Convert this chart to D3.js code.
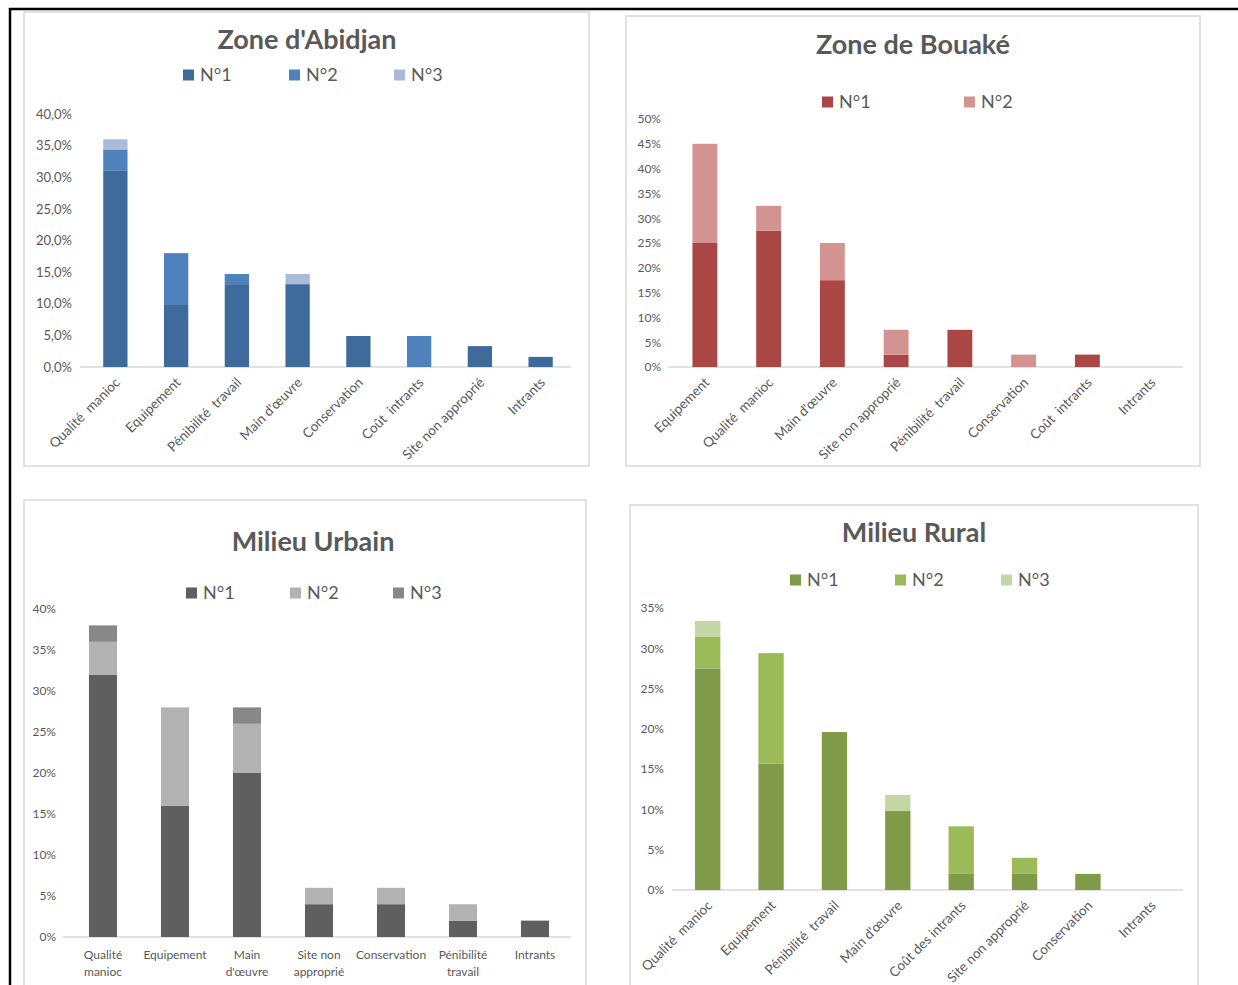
<!DOCTYPE html>
<html>
<head>
<meta charset="utf-8">
<script src="https://cdn.jsdelivr.net/npm/d3@7"></script>
<style>
body { margin: 0; background: #fff; }
text { font-family: Lato, "Open Sans", sans-serif; }
</style>
</head>
<body>
<script>
// series names, shared by the four charts
var seriesNames = ["N°1", "N°2", "N°3"];

// Zone d'Abidjan
var abidjanCats = ["Qualité  manioc", "Equipement", "Pénibilité  travail", "Main d'œuvre", "Conservation", "Coût  intrants", "Site non approprié", "Intrants"];
var abidjanN1 = [31.1, 9.8, 13.1, 13.1, 4.9, 0, 3.3, 1.6];
var abidjanN2 = [3.3, 8.2, 1.6, 0, 0, 4.9, 0, 0];
var abidjanN3 = [1.6, 0, 0, 1.6, 0, 0, 0, 0];
var abidjanTicks = [0, 5, 10, 15, 20, 25, 30, 35, 40];

// Zone de Bouaké
var bouakeCats = ["Equipement", "Qualité  manioc", "Main d'œuvre", "Site non approprié", "Pénibilité  travail", "Conservation", "Coût  intrants", "Intrants"];
var bouakeN1 = [25, 27.5, 17.5, 2.5, 7.5, 0, 2.5, 0];
var bouakeN2 = [20, 5, 7.5, 5, 0, 2.5, 0, 0];
var bouakeTicks = [0, 5, 10, 15, 20, 25, 30, 35, 40, 45, 50];

// Milieu Urbain
var urbainCats = ["Qualité|manioc", "Equipement", "Main|d'œuvre", "Site non|approprié", "Conservation", "Pénibilité|travail", "Intrants"];
var urbainN1 = [32, 16, 20, 4, 4, 2, 2];
var urbainN2 = [4, 12, 6, 2, 2, 2, 0];
var urbainN3 = [2, 0, 2, 0, 0, 0, 0];
var urbainTicks = [0, 5, 10, 15, 20, 25, 30, 35, 40];

// Milieu Rural
var ruralCats = ["Qualité  manioc", "Equipement", "Pénibilité  travail", "Main d'œuvre", "Coût des intrants", "Site non approprié", "Conservation", "Intrants"];
var ruralN1 = [27.5, 15.7, 19.6, 9.8, 2.0, 2.0, 2.0, 0];
var ruralN2 = [3.9, 13.7, 0, 0, 5.9, 2.0, 0, 0];
var ruralN3 = [2.0, 0, 0, 2.0, 0, 0, 0, 0];
var ruralTicks = [0, 5, 10, 15, 20, 25, 30, 35];

var width = 1238,
    height = 985;

var svg = d3.select("body").append("svg")
    .attr("width", width)
    .attr("height", height);

// outer frame (top and left only)
svg.append("line").attr("x1", 9).attr("x2", width).attr("y1", 9).attr("y2", 9)
    .attr("stroke", "#000").attr("stroke-width", 2.5);
svg.append("line").attr("x1", 10).attr("x2", 10).attr("y1", 8).attr("y2", height)
    .attr("stroke", "#000").attr("stroke-width", 2.5);

var pctComma = function(d) { return d3.format(".1f")(d).replace(".", ",") + "%"; };
var pct = function(d) { return d + "%"; };

function drawPanel(p) {
  var g = svg.append("g");

  g.append("rect")
      .attr("x", p.box[0]).attr("y", p.box[1])
      .attr("width", p.box[2]).attr("height", p.box[3])
      .attr("fill", "#fff")
      .attr("stroke", "#d9d9d9")
      .attr("stroke-width", 1.5);

  g.append("text")
      .attr("x", p.titleX).attr("y", p.titleY)
      .attr("text-anchor", "middle")
      .attr("font-size", 27)
      .attr("font-weight", "bold")
      .attr("fill", "#595959")
      .text(p.title);

  // legend
  p.legendX.forEach(function(lx, i) {
    g.append("rect")
        .attr("x", lx).attr("y", p.legendY - 5.5)
        .attr("width", 11).attr("height", 11)
        .attr("fill", p.colors[i]);
    g.append("text")
        .attr("x", lx + 17).attr("y", p.legendY)
        .attr("dy", "0.36em")
        .attr("font-size", 18)
        .attr("fill", "#595959")
        .text(seriesNames[i]);
  });

  var x = d3.scaleBand()
      .domain(p.cats)
      .range([p.x0, p.x1])
      .paddingInner(p.pad)
      .paddingOuter(p.pad / 2);

  var y = d3.scaleLinear()
      .domain([0, d3.max(p.ticks)])
      .range([p.y0, p.yTop]);

  var keys = p.series.map(function(s, j) { return "s" + j; });
  var rows = p.cats.map(function(c, i) {
    var r = { cat: c };
    p.series.forEach(function(s, j) { r["s" + j] = s[i]; });
    return r;
  });
  var stacked = d3.stack().keys(keys)(rows);

  // baseline
  g.append("line")
      .attr("x1", p.lineX0).attr("x2", p.x1)
      .attr("y1", p.y0).attr("y2", p.y0)
      .attr("stroke", "#d9d9d9")
      .attr("stroke-width", 1.5);

  g.append("g")
    .selectAll("g")
    .data(stacked)
    .enter().append("g")
      .attr("fill", function(d, i) { return p.colors[i]; })
    .selectAll("rect")
    .data(function(d) { return d.filter(function(v) { return v[1] > v[0]; }); })
    .enter().append("rect")
      .attr("x", function(d) { return x(d.data.cat); })
      .attr("width", x.bandwidth())
      .attr("y", function(d) { return y(d[1]); })
      .attr("height", function(d) { return y(d[0]) - y(d[1]); });

  var ya = g.append("g")
      .attr("transform", "translate(" + p.yLabelX + ",0)")
      .call(d3.axisLeft(y).tickValues(p.ticks).tickSize(0).tickPadding(0).tickFormat(p.fmt));
  ya.select(".domain").remove();
  ya.attr("font-family", null).attr("font-size", p.yFont);
  ya.selectAll("text").attr("fill", "#595959");

  var xa = g.append("g")
      .attr("transform", "translate(0," + p.y0 + ")")
      .call(d3.axisBottom(x).tickSize(0).tickFormat(function(d) { return ""; }));
  xa.select(".domain").remove();
  xa.attr("font-family", null);

  if (p.rotate) {
    xa.attr("font-size", 13.5);
    xa.selectAll(".tick text")
        .text(function(d) { return d; })
        .style("white-space", "pre")
        .attr("fill", "#595959")
        .attr("x", 0).attr("y", 0).attr("dy", "0.35em")
        .attr("text-anchor", "end")
        .attr("transform", "translate(2,13) rotate(-45)");
  } else {
    xa.attr("font-size", 12);
    xa.selectAll(".tick text").each(function(d) {
      var t = d3.select(this).attr("y", 0).attr("dy", null).attr("fill", "#595959");
      d.split("|").forEach(function(line, k) {
        t.append("tspan").attr("x", 0).attr("y", 22 + k * 17).text(line);
      });
    });
  }
}

drawPanel({
  title: "Zone d'Abidjan",
  box: [24, 12, 565, 454], titleX: 307, titleY: 49,
  legendX: [183, 289, 394], legendY: 75,
  cats: abidjanCats, series: [abidjanN1, abidjanN2, abidjanN3],
  colors: ["#3f6a9c", "#4f81bd", "#a9badb"],
  ticks: abidjanTicks, fmt: pctComma, yFont: 13,
  y0: 367, yTop: 114, yLabelX: 72,
  x0: 85, x1: 571, lineX0: 80, pad: 0.6, rotate: true
});

drawPanel({
  title: "Zone de Bouaké",
  box: [626, 16, 574, 450], titleX: 913, titleY: 54,
  legendX: [822, 964], legendY: 102,
  cats: bouakeCats, series: [bouakeN1, bouakeN2],
  colors: ["#aa4644", "#d39391"],
  ticks: bouakeTicks, fmt: pct, yFont: 12,
  y0: 367, yTop: 119, yLabelX: 661,
  x0: 673, x1: 1183, lineX0: 668, pad: 0.61, rotate: true
});

drawPanel({
  title: "Milieu Urbain",
  box: [24, 500, 562, 495], titleX: 313, titleY: 551,
  legendX: [186, 290, 393], legendY: 593,
  cats: urbainCats, series: [urbainN1, urbainN2, urbainN3],
  colors: ["#5f5f5f", "#b2b2b2", "#878787"],
  ticks: urbainTicks, fmt: pct, yFont: 12,
  y0: 937, yTop: 609, yLabelX: 56,
  x0: 67, x1: 571, lineX0: 63, pad: 0.61, rotate: false
});

drawPanel({
  title: "Milieu Rural",
  box: [630, 505, 568, 490], titleX: 914, titleY: 542,
  legendX: [790, 895, 1001], legendY: 580,
  cats: ruralCats, series: [ruralN1, ruralN2, ruralN3],
  colors: ["#7f9a48", "#9bbb59", "#c4d6a6"],
  ticks: ruralTicks, fmt: pct, yFont: 12,
  y0: 890, yTop: 608, yLabelX: 664,
  x0: 676, x1: 1183, lineX0: 672, pad: 0.6, rotate: true
});
</script>
</body>
</html>
